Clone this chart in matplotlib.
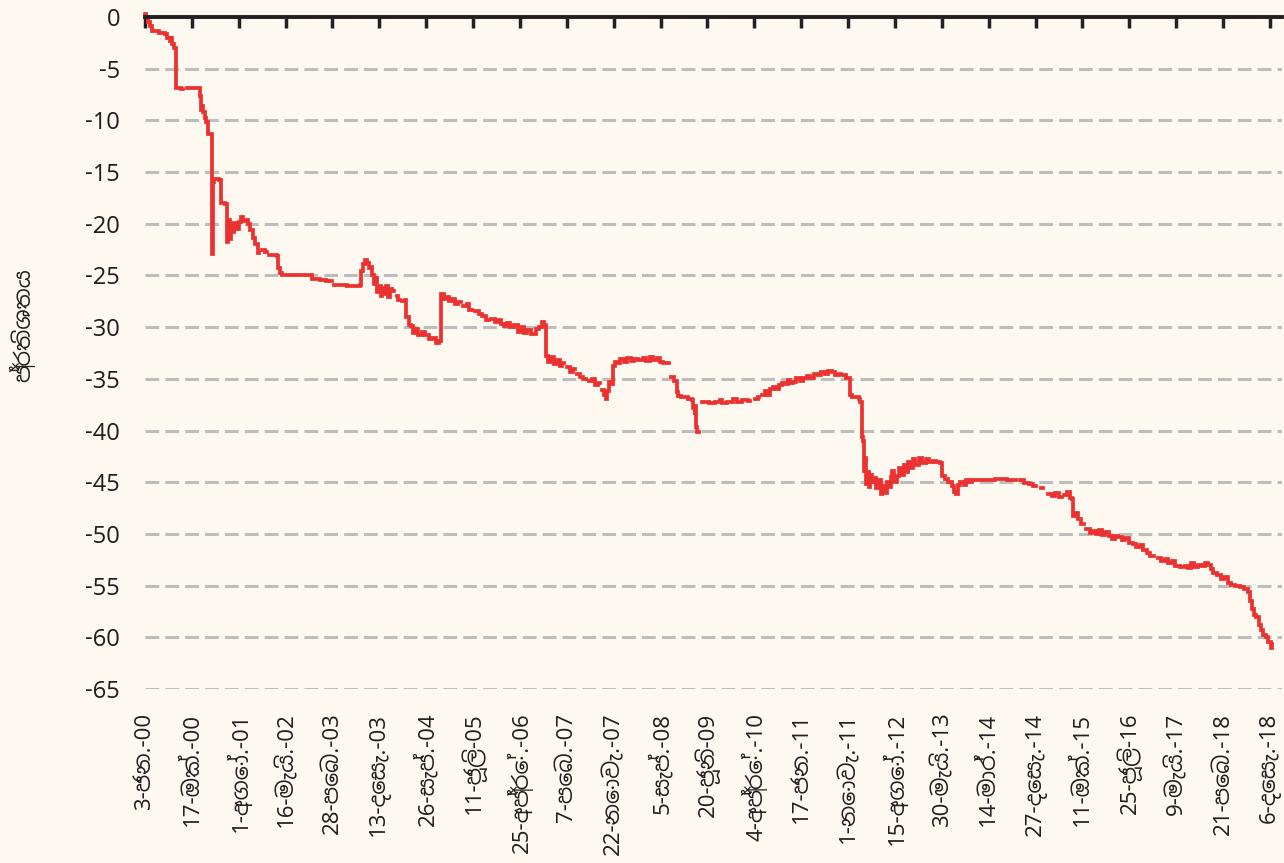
import numpy as np
import pandas as pd
import matplotlib
matplotlib.use("Agg")
import matplotlib.pyplot as plt

# time as decimal year, value in percent (nan = missing data, makes a gap)
nan = np.nan
years = [
    2000.00, 2000.02, 2000.06, 2000.09, 2000.13, 2000.25, 2000.34, 2000.37, 2000.42, 2000.44,
    2000.46, 2000.49, 2000.53, 2000.61, 2000.64, 2000.71, 2000.92, 2000.93, 2000.95, 2000.97,
    2000.99, 2001.01, 2001.03, 2001.065, 2001.13, 2001.14, 2001.15, 2001.17, 2001.25, 2001.28,
    2001.36, 2001.38, 2001.39, 2001.40, 2001.43, 2001.45, 2001.48, 2001.51, 2001.55, 2001.58,
    2001.62, 2001.66, 2001.72, 2001.74, 2001.78, 2001.82, 2001.86, 2001.90, 2001.93, 2001.97,
    2002.03, 2002.06, 2002.10, 2002.22, 2002.24, 2002.28, 2002.31, 2002.80, 2002.82, 2002.95,
    2003.05, 2003.08, 2003.11, 2003.15, 2003.19, 2003.40, 2003.62, 2003.64, 2003.67, 2003.70,
    2003.74, 2003.77, 2003.80, 2003.83, 2003.86, 2003.88, 2003.91, 2003.94, 2003.97, 2004.00,
    2004.03, 2004.06, 2004.09, 2004.12, 2004.16, 2004.20, 2004.24, 2004.27, 2004.30, 2004.33,
    2004.38, 2004.40, 2004.44, 2004.48, 2004.51, 2004.55, 2004.60, 2004.66, 2004.72, 2004.78,
    2004.84, 2004.90, 2004.96, 2004.985, 2005.03, 2005.07, 2005.12, 2005.17, 2005.22, 2005.27,
    2005.33, 2005.36, 2005.42, 2005.46, 2005.50, 2005.55, 2005.62, 2005.68, 2005.75, 2005.80,
    2005.83, 2005.90, 2005.95, 2006.00, 2006.05, 2006.10, 2006.15, 2006.22, 2006.28, 2006.33,
    2006.38, 2006.44, 2006.50, 2006.58, 2006.64, 2006.68, 2006.72, 2006.76, 2006.79, 2006.83,
    2006.88, 2006.93, 2006.98, 2007.02, 2007.06, 2007.10, 2007.16, 2007.21, 2007.24, 2007.28,
    2007.33, 2007.38, 2007.43, 2007.47, 2007.53, 2007.58, 2007.62, 2007.66, 2007.70, 2007.73,
    2007.76, 2007.78, 2007.81, 2007.84, 2007.88, 2007.91, 2007.96, 2008.00, 2008.06, 2008.12,
    2008.18, 2008.24, 2008.30, 2008.38, 2008.44, 2008.50, 2008.56, 2008.62, 2008.67, 2008.72,
    2008.80, 2008.82, 2008.85, 2008.90, 2008.95, 2008.97, 2009.02, 2009.14, 2009.20, 2009.23,
    2009.25, 2009.26, 2009.28, 2009.30, 2009.32, 2009.38, 2009.50, 2009.60, 2009.68, 2009.72,
    2009.80, 2009.90, 2009.96, 2010.05, 2010.15, 2010.19, 2010.26, 2010.31, 2010.34, 2010.38,
    2010.43, 2010.47, 2010.52, 2010.57, 2010.62, 2010.67, 2010.72, 2010.77, 2010.82, 2010.86,
    2010.91, 2010.96, 2011.02, 2011.08, 2011.14, 2011.20, 2011.26, 2011.32, 2011.38, 2011.45,
    2011.50, 2011.56, 2011.62, 2011.68, 2011.72, 2011.75, 2011.80, 2011.87, 2011.90, 2011.98,
    2012.01, 2012.04, 2012.06, 2012.08, 2012.10, 2012.12, 2012.14, 2012.16, 2012.18, 2012.20,
    2012.23, 2012.26, 2012.30, 2012.34, 2012.38, 2012.41, 2012.45, 2012.48, 2012.52, 2012.56,
    2012.58, 2012.61, 2012.65, 2012.69, 2012.73, 2012.77, 2012.80, 2012.84, 2012.88, 2012.92,
    2012.96, 2013.02, 2013.08, 2013.14, 2013.20, 2013.26, 2013.32, 2013.38, 2013.42, 2013.46,
    2013.52, 2013.58, 2013.62, 2013.65, 2013.68, 2013.72, 2013.78, 2013.82, 2013.86, 2013.92,
    2014.10, 2014.30, 2014.50, 2014.62, 2014.65, 2014.72, 2014.80, 2014.88, 2014.94, 2015.00,
    2015.08, 2015.12, 2015.20, 2015.26, 2015.32, 2015.38, 2015.43, 2015.47, 2015.52, 2015.56,
    2015.60, 2015.62, 2015.66, 2015.70, 2015.76, 2015.80, 2015.84, 2015.90, 2015.95, 2016.00,
    2016.06, 2016.10, 2016.16, 2016.22, 2016.28, 2016.32, 2016.38, 2016.44, 2016.50, 2016.56,
    2016.62, 2016.68, 2016.74, 2016.80, 2016.86, 2016.92, 2016.98, 2017.04, 2017.10, 2017.16,
    2017.22, 2017.28, 2017.34, 2017.42, 2017.50, 2017.56, 2017.60, 2017.66, 2017.72, 2017.78,
    2017.84, 2017.88, 2017.94, 2017.98, 2018.04, 2018.10, 2018.16, 2018.22, 2018.28, 2018.34,
    2018.42, 2018.50, 2018.56, 2018.59, 2018.62, 2018.66, 2018.70, 2018.74, 2018.78, 2018.82,
    2018.86, 2018.90, 2018.94, 2018.96,
]
values = [
    0.3, 0.0, -0.5, -0.9, -1.4, -1.5, -1.6, -2.0, -2.3, -2.0,
    -2.6, -3.0, -6.9, -7.0, nan, -6.9, -6.9, -7.6, -9.0, -8.6,
    -9.2, -9.8, -10.2, -11.3, -11.3, -22.9, -16.0, -15.7, -15.8, -18.0,
    -18.1, -19.5, -21.8, -19.6, -21.5, -20.0, -20.8, -19.9, -20.5, -19.8,
    -19.3, -19.7, -19.6, -20.0, -20.6, -21.4, -22.0, -22.8, nan, -22.5,
    -22.7, nan, -23.0, -23.1, -24.3, -24.8, -25.0, -25.0, -25.3, -25.4,
    -25.5, nan, -25.5, nan, -25.9, -26.0, -25.9, -24.6, -23.9, -23.5,
    -23.8, -24.3, -24.2, -25.0, -25.8, -25.2, -26.6, -26.0, -27.0, -26.2,
    -26.8, -26.0, -27.1, -26.3, -26.5, nan, -27.0, -27.4, nan, -27.5,
    -27.4, -29.0, -29.8, -29.9, -30.6, -30.2, -30.8, -30.5, -30.8, -31.1,
    -31.0, -31.5, -31.3, -26.8, -27.3, -27.1, -27.5, -27.3, -27.8, -27.6,
    nan, -28.0, -27.8, -28.3, nan, -28.4, -28.7, -28.9, -29.3, nan,
    -29.2, -29.5, -29.3, -29.7, -29.9, -29.6, -30.0, -29.8, -30.5, -30.0,
    -30.6, -30.3, -30.7, -30.2, -30.0, -29.5, -29.8, -32.8, -33.4, -32.9,
    -33.6, -33.2, -33.8, -33.5, nan, -33.9, -34.3, -34.0, nan, -34.5,
    -34.8, -35.0, nan, -35.2, -35.0, -35.6, -35.4, nan, -36.1, -36.6,
    -36.9, -36.2, -35.3, -35.5, -33.8, -33.4, -33.5, -33.1, -33.4, -33.0,
    -33.3, -33.1, -33.2, -33.0, -33.3, -32.9, -33.2, -33.0, -33.4, -33.5,
    -33.5, nan, -34.8, -35.2, -36.3, -36.7, -36.8, -36.9, -37.0, -37.8,
    -38.5, -37.6, -39.7, -40.1, nan, -37.2, -37.3, -37.2, -37.0, -37.3,
    -37.2, -36.9, -37.2, -37.0, -37.1, nan, -36.9, -36.8, nan, -36.6,
    -36.2, -36.6, -36.0, -35.8, -36.0, -35.6, -35.4, -35.5, -35.1, -35.4,
    -35.3, -34.9, -35.2, -34.9, -34.7, -34.9, -34.5, -34.6, -34.3, -34.5,
    -34.2, -34.3, -34.6, -34.5, nan, -34.6, -34.9, -36.6, -36.8, -36.8,
    -36.9, -37.2, -40.6, -41.0, -43.9, -42.7, -45.2, -44.0, -45.5, -44.3,
    -45.0, -44.6, -45.6, -44.8, -46.1, -45.4, -46.0, -45.0, -45.5, -44.5,
    -43.9, -45.0, -44.4, -43.6, -44.3, -43.3, -44.0, -43.0, -43.6, -42.8,
    -43.3, -42.7, -43.1, -42.8, -43.0, -42.9, -43.0, -43.1, -44.4, -44.7,
    -45.0, -45.4, -45.9, -46.1, -45.3, -45.0, -45.3, -44.8, -45.0, -44.8,
    -44.8, -44.7, -44.8, -44.8, nan, -44.8, -45.1, -45.2, -45.4, nan,
    -45.6, nan, -46.1, -46.3, -46.0, -46.4, nan, -46.2, -45.9, -46.5,
    -46.6, -48.3, -48.0, -48.6, -49.0, nan, -49.5, -49.9, -49.7, -50.0,
    -49.6, -50.1, -49.8, -50.2, -50.5, -50.2, -50.3, -50.6, -50.4, -50.9,
    -51.0, -51.3, -51.1, -51.6, -51.8, -52.1, nan, -52.3, -52.6, -52.4,
    -52.8, -52.6, -53.1, -53.2, -53.1, -53.3, -52.8, -53.2, -53.0, -53.1,
    -52.8, -53.0, -53.4, -53.8, -54.0, -54.4, -54.2, -54.7, -54.9, -55.0,
    -55.1, -55.3, -55.6, -56.5, -57.3, -57.8, -58.0, -58.8, -59.3, -59.8,
    -60.0, -60.5, -61.0, -60.6,
]

tick_dates = [
    "2000-01-03", "2000-10-17", "2001-08-01", "2002-05-16", "2003-02-28",
    "2003-12-13", "2004-09-26", "2005-07-11", "2006-04-25", "2007-02-07",
    "2007-11-22", "2008-09-05", "2009-06-20", "2010-04-04", "2011-01-17",
    "2011-11-01", "2012-08-15", "2013-05-30", "2014-03-14", "2014-12-27",
    "2015-10-11", "2016-07-25", "2017-05-09", "2018-02-21", "2018-12-06",
]
tick_labels = [
    "3-ජන.-00", "17-ඔක්.-00", "1-අගෝ.-01", "16-මැයි.-02", "28-පෙබ.-03",
    "13-දෙසැ.-03", "26-සැප්.-04", "11-ජූලි-05", "25-අප්‍රේ.-06", "7-පෙබ.-07",
    "22-නොවැ.-07", "5-සැප්.-08", "20-ජූනි-09", "4-අප්‍රේ.-10", "17-ජන.-11",
    "1-නොවැ.-11", "15-අගෝ.-12", "30-මැයි.-13", "14-මාර්.-14", "27-දෙසැ.-14",
    "11-ඔක්.-15", "25-ජූලි-16", "9-මැයි.-17", "21-පෙබ.-18", "6-දෙසැ.-18",
]
y_ticks = [0, -5, -10, -15, -20, -25, -30, -35, -40, -45, -50, -55, -60, -65]
y_label = "ප්‍රතිශතය"

bg = "#FDF9F0"
red = "#EC3230"
ink = "#231F20"
fonts = ["Noto Sans Sinhala", "Noto Sans", "DejaVu Sans"]

# decimal years -> dates
base = pd.Timestamp("2000-01-01")
dates = base + pd.to_timedelta((np.array(years) - 2000.0) * 365.25, unit="D")
ticks = pd.to_datetime(tick_dates)

fig = plt.figure(figsize=(12.84, 8.63), dpi=100, facecolor=bg)
ax = fig.add_axes([0.1129, 0.2016, 0.8855, 0.7787], facecolor=bg)

ax.plot(dates, values, color=red, lw=2.7, drawstyle="steps-post",
        solid_joinstyle="miter", clip_on=False, zorder=3)

ax.set_ylim(-65, 0)
ax.set_xlim(pd.Timestamp("2000-01-03"), pd.Timestamp("2000-01-03") + pd.Timedelta(days=6986))

# dashed horizontal grid
ax.set_yticks(y_ticks)
ax.set_yticklabels([str(v) for v in y_ticks], fontsize=17, family=fonts, color=ink)
ax.yaxis.grid(True, color="#BDBDBD", lw=2.2, ls=(0, (4.5, 2.0)))
ax.set_axisbelow(True)
ax.tick_params(axis="y", length=0, pad=18)

# axis line at zero, ticks hang down from it, labels at the bottom
ax.set_xticks(ticks)
ax.set_xticklabels(tick_labels, rotation=90, fontsize=16, family=fonts,
                   color=ink, va="top", ha="center")
ax.tick_params(axis="x", top=True, bottom=False, labeltop=False, labelbottom=True,
               direction="in", length=8, width=2.5, color=ink, pad=17)

for s in ["left", "right", "bottom"]:
    ax.spines[s].set_visible(False)
ax.spines["top"].set_linewidth(2.8)
ax.spines["top"].set_color(ink)
ax.spines["top"].set_zorder(4)

fig.text(0.017, 0.623, y_label, rotation=90, fontsize=16, family=fonts,
         color=ink, ha="center", va="center")

fig.savefig("out.png", dpi=100, facecolor=bg)
